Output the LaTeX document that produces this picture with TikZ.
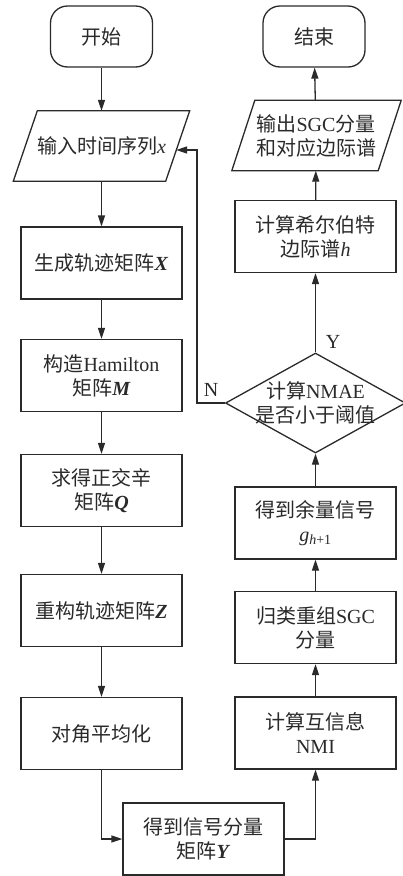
\documentclass[tikz,border=0pt]{standalone}
\usepackage{fontspec}
\setmainfont{Liberation Serif}
\newfontfamily\cjk{Noto Sans CJK SC}
\usetikzlibrary{arrows.meta,shapes.geometric,calc}
\newcommand{\zh}[1]{{\cjk #1}}
\newcommand{\bim}[1]{\textbf{\textit{#1}}}
\definecolor{ink}{HTML}{2A2A2A}
\begin{document}
\begin{tikzpicture}[x=1pt,y=-1pt,
  every node/.style={font=\fontsize{20}{24}\selectfont, text=ink},
  box/.style={draw=ink, line width=1.3pt, minimum width=161pt, minimum height=72pt, align=center, inner sep=0pt},
  term/.style={draw=ink, line width=1.3pt, rounded corners=17pt, minimum width=102pt, minimum height=61pt, inner sep=0pt},
  io/.style={minimum width=152pt, minimum height=70pt, align=center, inner sep=0pt},
  para/.style={draw=ink, line width=1.3pt},
  arr/.style={draw=ink, line width=1.3pt, -{Triangle[length=11pt,width=7pt]}}
]
\useasboundingbox (0,0) rectangle (402,876);
\fill[white] (0,0) rectangle (402,876);

% left column
\node[term] (start) at (101.5,36.5) {\zh{开始}};
\node[io] (in) at (101.5,146) {\zh{输入时间序列}\textit{x}};
\draw[para] ($(in.north west)+(12,0)$) -- ($(in.north east)+(12,0)$) -- ($(in.south east)+(-12,0)$) -- ($(in.south west)+(-12,0)$) -- cycle;
\node[box] (gx) at (101.5,263) {\zh{生成轨迹矩阵}\bim{X}};
\node[box] (ham) at (101.5,375.5) {\zh{构造}Hamilton\\\zh{矩阵}\bim{M}};
\node[box] (q) at (101.5,490.5) {\zh{求得正交辛}\\\zh{矩阵}\bim{Q}};
\node[box] (z) at (101.5,610.5) {\zh{重构轨迹矩阵}\bim{Z}};
\node[box] (diag) at (101.5,733.5) {\zh{对角平均化}};
\node[box] (y) at (203.5,839) {\zh{得到信号分量}\\\zh{矩阵}\bim{Y}};

% right column
\node[box] (nmi) at (315.5,733) {\zh{计算互信息}\\NMI};
\node[box] (reg) at (315.5,627.5) {\zh{归类重组}SGC\\\zh{分量}};
\node[box] (res) at (315.5,523) {\zh{得到余量信号}\\\textit{g}\textsubscript{\textit{h}+1}};
\node[diamond, draw=ink, line width=1.3pt, minimum width=180pt, minimum height=100pt, inner sep=0pt] (dec) at (315.5,403) {};
\node[align=center] (dectext) at (dec.center) {\zh{计算}NMAE\\\zh{是否小于阈值}};
\node[box] (hil) at (315.5,236.5) {\zh{计算希尔伯特}\\\zh{边际谱}\textit{h}};
\node[io, minimum width=146pt] (out) at (316,135.5) {\zh{输出}SGC\zh{分量}\\\zh{和对应边际谱}};
\draw[para] ($(out.north west)+(12,0)$) -- ($(out.north east)+(12,0)$) -- ($(out.south east)+(-11,0)$) -- ($(out.south west)+(-11,0)$) -- cycle;
\node[term] (end) at (314,36.5) {\zh{结束}};

% labels
\node (ylab) at (333,342) {Y};
\node (nlab) at (211,390) {N};

% connectors
\draw[arr] (start) -- (in);
\draw[arr] (in) -- (gx);
\draw[arr] (gx) -- (ham);
\draw[arr] (ham) -- (q);
\draw[arr] (q) -- (z);
\draw[arr] (z) -- (diag);
\draw[arr] (diag.south) |- (y.west);
\draw[arr] (y.east) -| (nmi.south);
\draw[arr] (nmi) -- (reg);
\draw[arr] (reg) -- (res);
\draw[arr] (res.north) -- (dec.south);
\draw[arr] (dec.north) -- (hil.south);
\draw[arr] (hil) -- (out);
\draw[arr] (out) -- (end);
\coordinate (inR) at ($(in.east)+(-1.5,4)$);
\draw[arr] (dec.west) -- ++(-28,0) |- (inR);
\end{tikzpicture}
\end{document}
